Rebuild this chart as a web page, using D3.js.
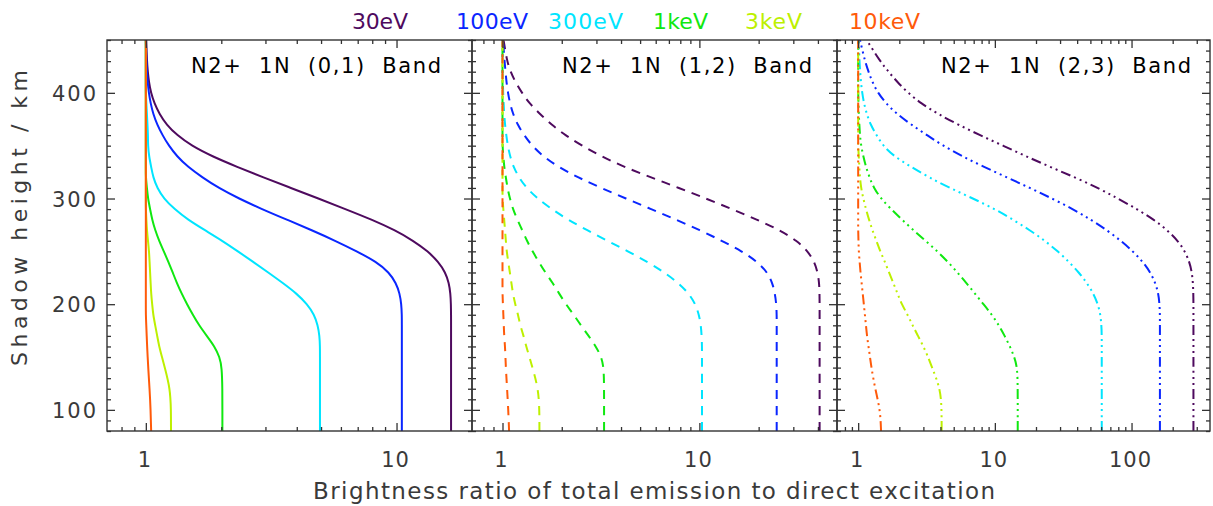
<!DOCTYPE html>
<html>
<head>
<meta charset="utf-8">
<script src="https://cdn.jsdelivr.net/npm/d3@7"></script>
<style>
  body { margin: 0; background: #fff; }
  svg text { font-family: "DejaVu Sans", sans-serif; white-space: pre; }
</style>
</head>
<body>
<div id="chart"></div>
<script>
// Shadow height grid (km), shared by every curve
var heights = [80, 100, 120, 140, 150, 160, 170, 180, 190, 200, 210, 220, 230, 240, 250,
               260, 270, 280, 290, 300, 310, 320, 330, 340, 350, 360, 370, 380, 390, 400,
               410, 420, 430, 450];

var energies = ["30eV", "100eV", "300eV", "1keV", "3keV", "10keV"];
var energyColors = ["#4e0a5e", "#0a26ff", "#00e5ff", "#10e810", "#bdf000", "#ff5a0a"];

var bandTitles = ["N2+  1N  (0,1)  Band", "N2+  1N  (1,2)  Band", "N2+  1N  (2,3)  Band"];

// ratio of total emission to direct excitation, one array per energy
var band01 = [
  [16.5,16.5,16.5,16.5,16.5,16.5,16.5,16.5,16.5,16.48,16.41,16.18,15.67,14.69,13.35,11.68,9.86,7.98,6.25,4.88,3.79,2.94,2.31,1.835,1.52,1.33,1.208,1.133,1.082,1.048,1.029,1.018,1.010,1.004],
  [10.5,10.5,10.5,10.5,10.5,10.5,10.5,10.5,10.5,10.45,10.3,9.95,9.35,8.32,6.95,5.7,4.6,3.65,2.9,2.35,1.95,1.68,1.47,1.33,1.235,1.165,1.11,1.07,1.045,1.028,1.017,1.01,1.005,1.0],
  [4.95,4.95,4.95,4.95,4.95,4.95,4.93,4.85,4.7,4.4,4.0,3.52,3.08,2.68,2.33,2.02,1.72,1.47,1.3,1.18,1.11,1.07,1.05,1.03,1.02,1.02,1.015,1.01,1.005,1.0,1.0,1.0,1.0,1.0],
  [2.02,2.02,2.02,2.01,1.97,1.88,1.75,1.63,1.54,1.46,1.39,1.33,1.28,1.23,1.18,1.13,1.09,1.06,1.04,1.02,1.01,1.0,1.0,1.0,1.0,1.0,1.0,1.0,1.0,1.0,1.0,1.0,1.0,1.0],
  [1.26,1.26,1.25,1.19,1.16,1.13,1.11,1.09,1.07,1.06,1.05,1.045,1.04,1.035,1.03,1.02,1.01,1.005,1.0,1.0,1.0,1.0,1.0,1.0,1.0,1.0,1.0,1.0,1.0,1.0,1.0,1.0,1.0,1.0],
  [1.05,1.045,1.035,1.022,1.017,1.012,1.008,1.004,1.0,1.0,1.0,1.0,1.0,1.0,1.0,1.0,1.0,1.0,1.0,1.0,1.0,1.0,1.0,1.0,1.0,1.0,1.0,1.0,1.0,1.0,1.0,1.0,1.0,1.0]
];
var band12 = [
  [40.8,40.8,40.8,40.8,40.8,40.8,40.8,40.8,40.8,40.8,40.75,40.6,39.9,38.4,35.6,31.3,25.7,19.6,14.6,10.8,7.88,5.68,4.14,3.17,2.53,2.08,1.77,1.55,1.37,1.256,1.164,1.098,1.054,1.012],
  [24.7,24.7,24.7,24.7,24.7,24.7,24.7,24.7,24.7,24.58,24.21,23.5,22.18,19.73,16.46,13.02,10.07,7.61,5.68,4.24,3.165,2.418,1.913,1.606,1.412,1.286,1.192,1.131,1.092,1.066,1.048,1.036,1.024,1.006],
  [10.31,10.31,10.31,10.31,10.31,10.31,10.27,10.18,9.95,9.555,8.855,7.833,6.65,5.45,4.34,3.415,2.687,2.151,1.774,1.506,1.324,1.21,1.137,1.092,1.064,1.045,1.03,1.02,1.013,1.008,1.004,1.0,1.0,1.0],
  [3.28,3.28,3.28,3.27,3.18,2.98,2.74,2.5,2.3,2.1,1.94,1.8,1.65,1.53,1.42,1.33,1.26,1.19,1.13,1.09,1.06,1.04,1.02,1.01,1.0,1.0,1.0,1.0,1.0,1.0,1.0,1.0,1.0,1.0],
  [1.54,1.54,1.52,1.42,1.37,1.32,1.28,1.23,1.2,1.16,1.13,1.11,1.09,1.07,1.05,1.04,1.03,1.02,1.01,1.0,1.0,1.0,1.0,1.0,1.0,1.0,1.0,1.0,1.0,1.0,1.0,1.0,1.0,1.0],
  [1.08,1.07,1.055,1.04,1.035,1.03,1.02,1.015,1.01,1.005,1.0,1.0,1.0,1.0,1.0,1.0,1.0,1.0,1.0,1.0,1.0,1.0,1.0,1.0,1.0,1.0,1.0,1.0,1.0,1.0,1.0,1.0,1.0,1.0]
];
var band23 = [
  [283.7,283.7,283.7,283.7,283.7,283.7,283.7,283.7,283.7,283.7,283.2,281.3,276.6,265.2,245.8,218.5,183,145.8,109.5,79.5,56.8,38.55,25.3,16.89,11.47,7.78,5.37,3.835,2.88,2.314,1.939,1.666,1.444,1.154],
  [161.3,161.3,161.3,161.3,161.3,161.3,161.3,161.3,161.3,160.2,157.3,149.5,137.5,121.2,102.4,83.64,66.07,50.47,37.26,26.16,18.06,12.26,8.325,5.745,4.173,3.187,2.433,1.922,1.597,1.396,1.272,1.189,1.121,1.031],
  [60.54,60.54,60.54,60.54,60.54,60.54,60.54,60.24,59.23,56.79,52.63,47.18,41.24,34.84,28.94,23.25,18.06,13.56,10.02,6.915,4.694,3.296,2.433,1.828,1.518,1.361,1.23,1.156,1.103,1.07,1.048,1.034,1.022,1.01],
  [14.7,14.7,14.7,14.6,13.9,12.9,11.8,10.7,9.52,8.25,7.15,6.2,5.33,4.54,3.8,3.11,2.54,2.09,1.74,1.47,1.3,1.21,1.14,1.09,1.05,1.03,1.02,1.01,1.005,1.0,1.0,1.0,1.0,1.0],
  [4.08,4.08,4.0,3.47,3.25,3.0,2.74,2.5,2.3,2.08,1.94,1.81,1.68,1.57,1.45,1.36,1.27,1.2,1.14,1.09,1.05,1.03,1.02,1.01,1.0,1.0,1.0,1.0,1.0,1.0,1.0,1.0,1.0,1.0],
  [1.47,1.45,1.33,1.25,1.22,1.19,1.16,1.14,1.12,1.10,1.08,1.06,1.04,1.025,1.01,1.005,1.0,1.0,1.0,1.0,1.0,1.0,1.0,1.0,1.0,1.0,1.0,1.0,1.0,1.0,1.0,1.0,1.0,1.0]
];

var yMajorTicks = [100, 200, 300, 400];
var xTickLabels = [["1", "10"], ["1", "10"], ["1", "10", "100"]];

var svgW = 1213, svgH = 506,
    plotTop = 40, plotBottom = 431,
    axisColor = "#333";

var svg = d3.select("#chart").append("svg")
    .attr("width", svgW)
    .attr("height", svgH);

var y = d3.scaleLinear().domain([80, 450]).range([plotBottom, plotTop]);

// panel layout: pixel extent and log domain for each band
var panels = [
  {data: band01, x0: 107, x1: 472, xmax: 20, dash: null, titleEnd: 441},
  {data: band12, x0: 472, x1: 837, xmax: 50, dash: "9,7", titleEnd: 812},
  {data: band23, x0: 837, x1: 1210, xmax: 375, dash: "10,4,2,4,2,4,2,4", titleEnd: 1191}
];

var yMinor = d3.range(80, 451, 10).filter(function(v) { return v % 100 !== 0; });

panels.forEach(function(p, i) {
  var x = d3.scaleLog().domain([0.7, p.xmax]).range([p.x0, p.x1]);
  var g = svg.append("g").attr("class", "panel");

  var majors = xTickLabels[i].map(Number);
  var minors = [];
  [0.1, 1, 10, 100].forEach(function(dec) {
    for (var k = 2; k <= 9; k++) {
      var v = +(dec * k).toFixed(3);
      if (v > 0.7 && v < p.xmax && majors.indexOf(v) < 0) minors.push(v);
    }
  });

  // curves
  g.append("clipPath").attr("id", "clip" + i)
    .append("rect")
      .attr("x", p.x0).attr("y", plotTop)
      .attr("width", p.x1 - p.x0).attr("height", plotBottom - plotTop);

  var line = d3.line()
      .x(function(d) { return x(d[1]); })
      .y(function(d) { return y(d[0]); })
      .curve(d3.curveBasis);

  p.data.forEach(function(series, j) {
    g.append("path")
      .datum(heights.map(function(h, k) { return [h, series[k]]; }))
      .attr("clip-path", "url(#clip" + i + ")")
      .attr("fill", "none")
      .attr("stroke", energyColors[j])
      .attr("stroke-width", 2)
      .attr("stroke-dasharray", p.dash)
      .attr("d", line);
  });

  // axes with inward ticks
  function axis(gen, tr, vals, size) {
    var a = gen.tickValues(vals).tickSizeInner(size).tickSizeOuter(0).tickFormat("");
    var ag = g.append("g").attr("transform", tr).call(a);
    ag.select(".domain").remove();
    ag.selectAll("line").attr("stroke", axisColor).attr("stroke-width", 1.3);
    ag.selectAll("text").remove();
    return ag;
  }
  axis(d3.axisBottom(x), "translate(0," + plotBottom + ")", majors, -8);
  axis(d3.axisBottom(x), "translate(0," + plotBottom + ")", minors, -4);
  axis(d3.axisTop(x), "translate(0," + plotTop + ")", majors, -8);
  axis(d3.axisTop(x), "translate(0," + plotTop + ")", minors, -4);
  axis(d3.axisLeft(y), "translate(" + p.x0 + ",0)", yMajorTicks, -8);
  axis(d3.axisLeft(y), "translate(" + p.x0 + ",0)", yMinor, -4);
  axis(d3.axisRight(y), "translate(" + p.x1 + ",0)", yMajorTicks, -8);
  axis(d3.axisRight(y), "translate(" + p.x1 + ",0)", yMinor, -4);

  g.append("rect")
    .attr("x", p.x0).attr("y", plotTop)
    .attr("width", p.x1 - p.x0).attr("height", plotBottom - plotTop)
    .attr("fill", "none").attr("stroke", axisColor).attr("stroke-width", 1.4);

  // x tick labels
  g.selectAll(".xlab").data(xTickLabels[i]).enter()
    .append("text")
      .attr("x", function(d) { return x(+d) - 1; })
      .attr("y", 467)
      .attr("text-anchor", "middle")
      .attr("fill", "#3a3a3a")
      .style("font-size", "21px")
      .style("letter-spacing", "1px")
      .text(function(d) { return d; });

  // band title
  g.append("text")
    .attr("x", p.titleEnd)
    .attr("y", 73)
    .attr("text-anchor", "end")
    .attr("fill", "#000")
    .style("font-size", "21px")
    .attr("textLength", 250)
    .attr("lengthAdjust", "spacing")
    .text(bandTitles[i]);
});

// y tick labels
svg.selectAll(".ylab").data(yMajorTicks).enter()
  .append("text")
    .attr("x", 98)
    .attr("y", function(d) { return y(d) + 8; })
    .attr("text-anchor", "end")
    .attr("fill", "#3a3a3a")
    .style("font-size", "21px")
    .style("letter-spacing", "2px")
    .text(function(d) { return d; });

// axis titles
svg.append("text")
  .attr("x", 313).attr("y", 499)
  .attr("fill", "#3a3a3a")
  .style("font-size", "23px")
  .attr("textLength", 682)
  .attr("lengthAdjust", "spacing")
  .text("Brightness ratio of total emission to direct excitation");

svg.append("text")
  .attr("transform", "translate(27,366) rotate(-90)")
  .attr("fill", "#3a3a3a")
  .style("font-size", "22px")
  .attr("textLength", 296)
  .attr("lengthAdjust", "spacing")
  .text("Shadow height / km");

// energy legend along the top
var legendX = [352, 456, 548, 653, 745, 849];
var legendW = [56, 72, 75, 55, 57, 71];
svg.selectAll(".legend").data(energies).enter()
  .append("text")
    .attr("x", function(d, i) { return legendX[i]; })
    .attr("y", 29)
    .attr("fill", function(d, i) { return energyColors[i]; })
    .style("font-size", "22px")
    .attr("textLength", function(d, i) { return legendW[i]; })
    .attr("lengthAdjust", "spacing")
    .text(function(d) { return d; });
</script>
</body>
</html>
